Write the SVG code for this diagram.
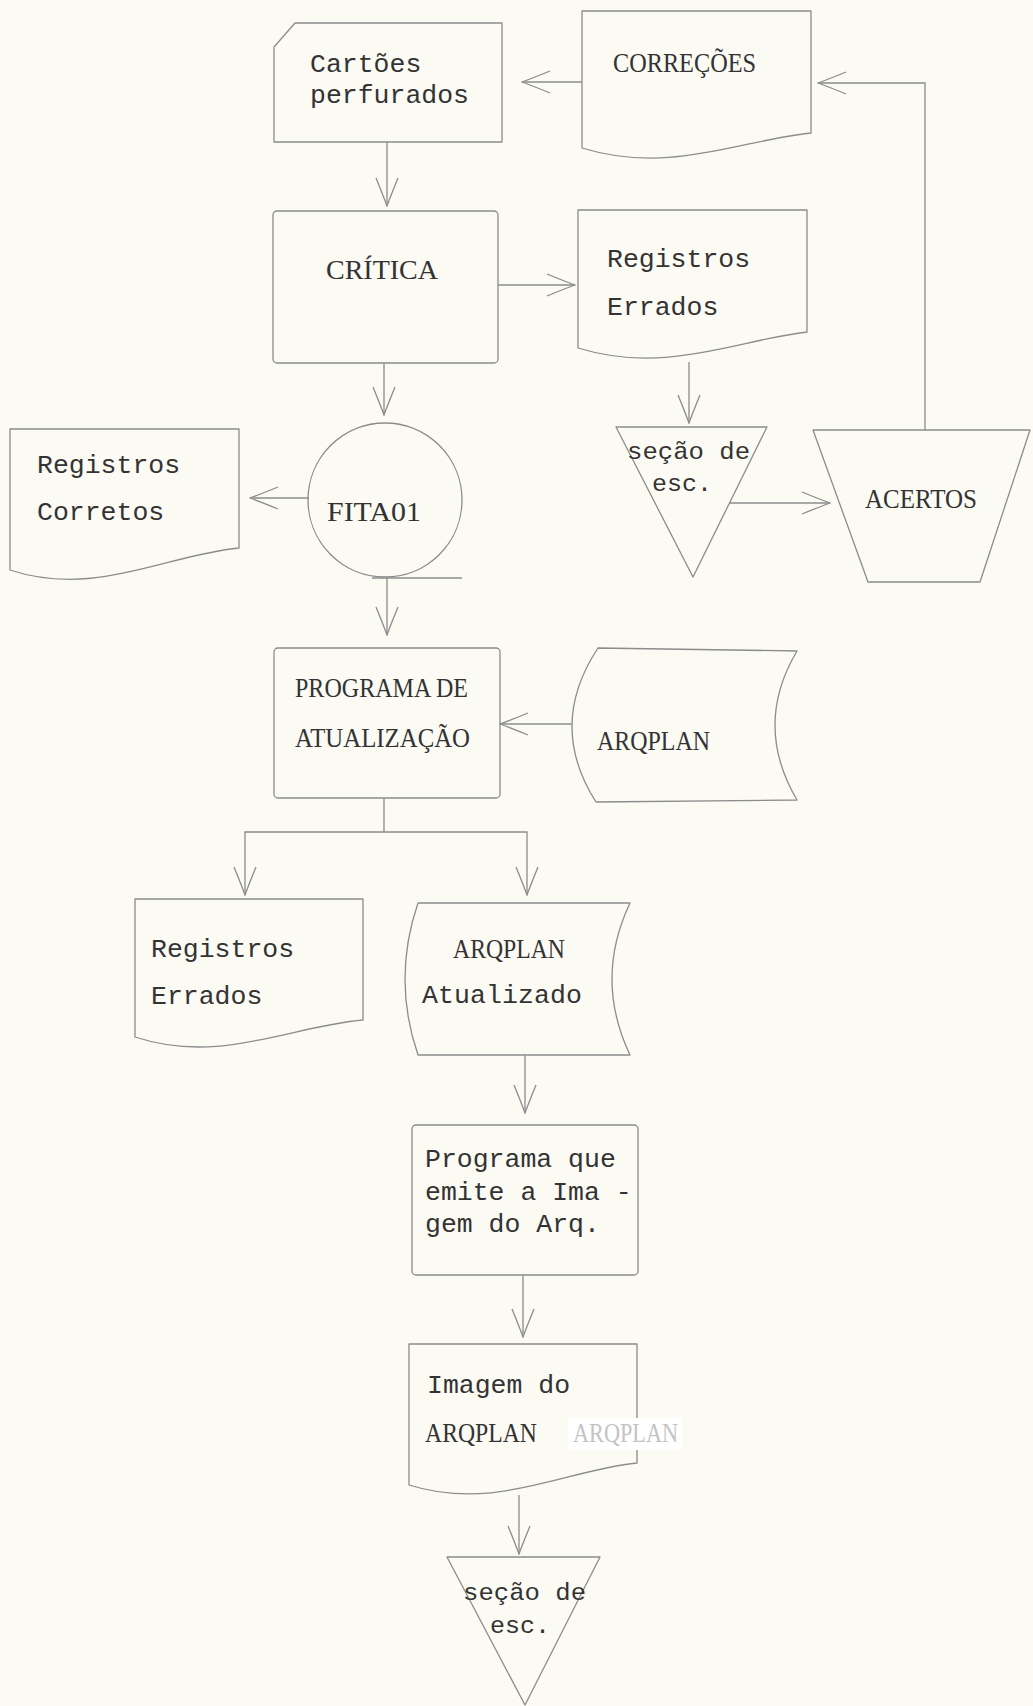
<svg xmlns="http://www.w3.org/2000/svg" width="1033" height="1706" viewBox="0 0 1033 1706">
<style>
.shape{fill:none;stroke:#8c8c8c;stroke-width:1.3;stroke-linejoin:round}
.conn{fill:none;stroke:#8c8c8c;stroke-width:1.3}
.m{font-family:"Liberation Mono","DejaVu Sans Mono",monospace;font-size:26.5px;fill:#333333}
.s{font-family:"Liberation Mono","DejaVu Sans Mono",monospace;font-size:24px;fill:#333333}
.u{font-family:"Liberation Serif","DejaVu Serif",serif;font-size:28px;fill:#333333}
</style>
<defs>
<marker id="ah" viewBox="0 0 30 24" refX="29" refY="12" markerWidth="30" markerHeight="24" markerUnits="userSpaceOnUse" orient="auto">
<path d="M1,1 Q18,8 29,12 Q18,16 1,23" fill="none" stroke="#8c8c8c" stroke-width="1.3"/>
</marker>
</defs>
<rect width="1033" height="1706" fill="#fbfaf3"/>

<g id="connectors">
<path class="conn" d="M582,82 H522" marker-end="url(#ah)"/>
<path class="conn" d="M925,430 V83 H818" marker-end="url(#ah)"/>
<path class="conn" d="M387,142 V206" marker-end="url(#ah)"/>
<path class="conn" d="M498,285 H575" marker-end="url(#ah)"/>
<path class="conn" d="M384,363 V415" marker-end="url(#ah)"/>
<path class="conn" d="M689,362 V423" marker-end="url(#ah)"/>
<path class="conn" d="M309,498 H250" marker-end="url(#ah)"/>
<path class="conn" d="M730,503 H830" marker-end="url(#ah)"/>
<path class="conn" d="M387,578 V635" marker-end="url(#ah)"/>
<path class="conn" d="M572,724 H500" marker-end="url(#ah)"/>
<path class="conn" d="M384,798 V832 H245 V895" marker-end="url(#ah)"/>
<path class="conn" d="M384,832 H527 V895" marker-end="url(#ah)"/>
<path class="conn" d="M525,1055 V1113" marker-end="url(#ah)"/>
<path class="conn" d="M523,1275 V1337" marker-end="url(#ah)"/>
<path class="conn" d="M519,1495 V1554" marker-end="url(#ah)"/>
</g>

<g id="cartoes">
<path class="shape" d="M295,23 H502 V142 H274 V47 Z"/>
<text class="m" x="310" y="72">Cartões</text>
<text class="m" x="310" y="103">perfurados</text>
</g>

<g id="correcoes">
<path class="shape" d="M582,148 V11 H811 V133 C740,140 670,175 582,148 Z"/>
<text class="u" x="613" y="72" textLength="143" lengthAdjust="spacingAndGlyphs">CORREÇÕES</text>
</g>

<g id="critica">
<rect class="shape" x="273" y="211" width="225" height="152" rx="4"/>
<text class="u" x="326" y="279" textLength="112" lengthAdjust="spacingAndGlyphs">CRÍTICA</text>
</g>

<g id="registros-errados-1">
<path class="shape" d="M578,348 V210 H807 V332 C737,340 665,375 578,348 Z"/>
<text class="m" x="607" y="267">Registros</text>
<text class="m" x="607" y="315">Errados</text>
</g>

<g id="fita01">
<circle class="shape" cx="385" cy="500" r="77"/>
<path class="shape" d="M372,578 H462"/>
<text class="u" x="327" y="521" textLength="94" lengthAdjust="spacingAndGlyphs">FITA01</text>
</g>

<g id="registros-corretos">
<path class="shape" d="M10,570 V429 H239 V548 C165,555 95,598 10,570 Z"/>
<text class="m" x="37" y="473">Registros</text>
<text class="m" x="37" y="520">Corretos</text>
</g>

<g id="secao-1">
<path class="shape" d="M616,427 H767 L693,577 Z"/>
<text class="s" x="627" y="459" textLength="123" lengthAdjust="spacingAndGlyphs">seção de</text>
<text class="s" x="652" y="491" textLength="60" lengthAdjust="spacingAndGlyphs">esc.</text>
</g>

<g id="acertos">
<path class="shape" d="M813,430 H1030 L980,582 H868 Z"/>
<text class="u" x="865" y="508" textLength="112" lengthAdjust="spacingAndGlyphs">ACERTOS</text>
</g>

<g id="programa-atualizacao">
<rect class="shape" x="274" y="648" width="226" height="150" rx="4"/>
<text class="u" x="295" y="697" textLength="173" lengthAdjust="spacingAndGlyphs">PROGRAMA DE</text>
<text class="u" x="295" y="747" textLength="175" lengthAdjust="spacingAndGlyphs">ATUALIZAÇÃO</text>
</g>

<g id="arqplan">
<path class="shape" d="M598,648 L797,651 Q753,725 797,800 L596,802 Q547,725 598,648 Z"/>
<text class="u" x="597" y="750" textLength="113" lengthAdjust="spacingAndGlyphs">ARQPLAN</text>
</g>

<g id="registros-errados-2">
<path class="shape" d="M135,1037 V899 H363 V1020 C290,1026 220,1065 135,1037 Z"/>
<text class="m" x="151" y="957">Registros</text>
<text class="m" x="151" y="1004">Errados</text>
</g>

<g id="arqplan-atualizado">
<path class="shape" d="M418,903 H630 Q594,979 630,1055 H418 Q392,979 418,903 Z"/>
<text class="u" x="453" y="958" textLength="112" lengthAdjust="spacingAndGlyphs">ARQPLAN</text>
<text class="m" x="422" y="1003" textLength="160">Atualizado</text>
</g>

<g id="programa-imagem">
<rect class="shape" x="412" y="1125" width="226" height="150" rx="4"/>
<text class="m" x="425" y="1167">Programa que</text>
<text class="m" x="425" y="1200">emite a Ima -</text>
<text class="m" x="425" y="1232">gem do Arq.</text>
</g>

<g id="imagem-arqplan">
<path class="shape" d="M409,1485 V1344 H637 V1463 C565,1470 495,1512 409,1485 Z"/>
<rect x="568" y="1418" width="114" height="32" fill="#ffffff"/>
<text class="m" x="427" y="1393">Imagem do</text>
<text class="u" x="425" y="1442" textLength="112" lengthAdjust="spacingAndGlyphs">ARQPLAN</text>
<text class="u" x="573" y="1442" textLength="105" lengthAdjust="spacingAndGlyphs" style="fill:#c4c4c4">ARQPLAN</text>
</g>

<g id="secao-2">
<path class="shape" d="M447,1557 H600 L525,1705 Z"/>
<text class="s" x="463" y="1600" textLength="123" lengthAdjust="spacingAndGlyphs">seção de</text>
<text class="s" x="490" y="1633" textLength="60" lengthAdjust="spacingAndGlyphs">esc.</text>
</g>
</svg>
